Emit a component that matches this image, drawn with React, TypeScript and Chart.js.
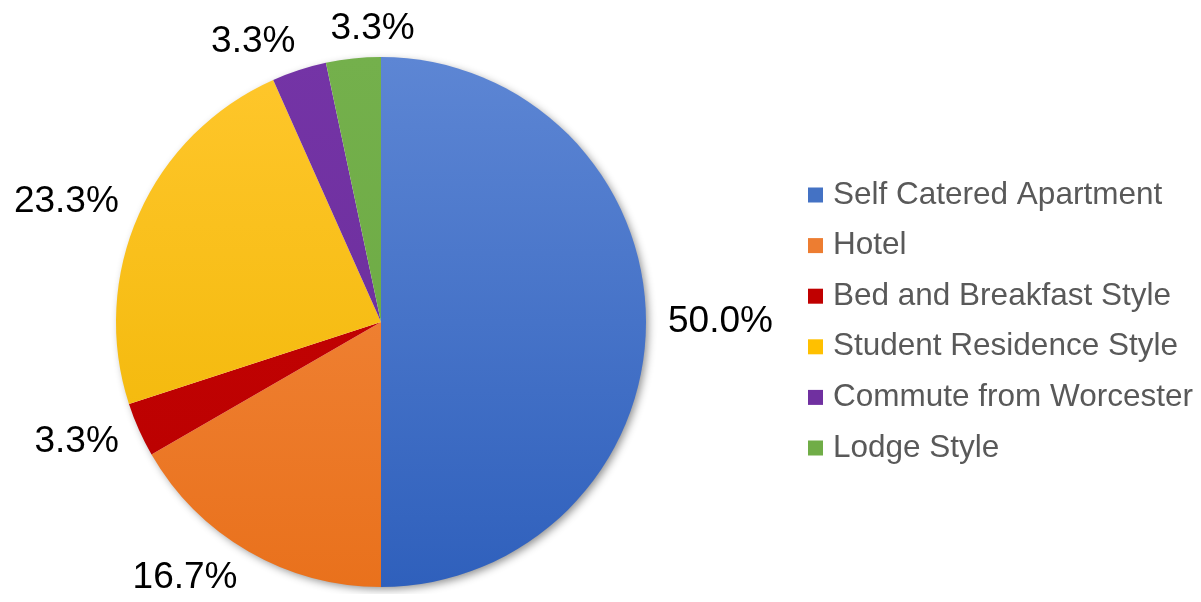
import React, { useEffect, useRef } from "react";
import { Chart, registerables } from "chart.js";

Chart.register(...registerables);

const categories = [
  "Self Catered Apartment",
  "Hotel",
  "Bed and Breakfast Style",
  "Student Residence Style",
  "Commute from Worcester",
  "Lodge Style",
];
const counts = [15, 5, 1, 7, 1, 1];
const colorTop = ["#5d86d4", "#f48d45", "#c80404", "#ffc72c", "#7434a6", "#74b04c"];
const colorBottom = ["#2f60bc", "#e9711c", "#b80000", "#efb400", "#6a2c98", "#6aa840"];
const baseColors = ["#4472C4", "#ED7D31", "#C00000", "#FFC000", "#7030A0", "#70AD47"];

const FONT = "'Liberation Sans', Arial, sans-serif";

const shadowPlugin = {
  id: "pieShadow",
  beforeDatasetsDraw(chart: any) {
    const arc = chart.getDatasetMeta(0).data[0];
    if (!arc) return;
    const { x, y, outerRadius } = arc.getProps(["x", "y", "outerRadius"], true);
    const ctx = chart.ctx;
    ctx.save();
    ctx.shadowColor = "rgba(0,0,0,0.45)";
    ctx.shadowBlur = 9;
    ctx.shadowOffsetX = 3;
    ctx.shadowOffsetY = 3;
    ctx.beginPath();
    ctx.arc(x, y, outerRadius - 1, 0, Math.PI * 2);
    ctx.fillStyle = "#ffffff";
    ctx.fill();
    ctx.restore();
  },
};

const labelPlugin = {
  id: "outsideLabels",
  afterDatasetsDraw(chart: any) {
    const ctx = chart.ctx;
    const ds = chart.data.datasets[0];
    const values = ds.data as number[];
    const total = values.reduce((a, b) => a + b, 0);
    const meta = chart.getDatasetMeta(0);
    ctx.save();
    ctx.font = `37px ${FONT}`;
    ctx.fillStyle = "#000000";
    ctx.textAlign = "center";
    ctx.textBaseline = "middle";
    const placed: { cx: number; cy: number; w: number }[] = [];
    meta.data.forEach((arc: any, i: number) => {
      const { x, y, startAngle, endAngle, outerRadius } = arc.getProps(
        ["x", "y", "startAngle", "endAngle", "outerRadius"],
        true
      );
      const mid = (startAngle + endAngle) / 2;
      const cos = Math.cos(mid);
      const sin = Math.sin(mid);
      const text = ((values[i] / total) * 100).toFixed(1) + "%";
      const w = ctx.measureText(text).width;
      const d = outerRadius + 22;
      const k = Math.max(-1, Math.min(1, cos * 3));
      let cx = x + d * cos + (w / 2) * k;
      const cy = y + d * sin + 8 * sin;
      const prev = placed[placed.length - 1];
      if (prev && Math.abs(cy - prev.cy) < 32) {
        const need = (w + prev.w) / 2 + 35;
        if (Math.abs(cx - prev.cx) < need) {
          const sign = cx >= prev.cx ? 1 : -1;
          cx = prev.cx + sign * need;
        }
      }
      placed.push({ cx, cy, w });
      ctx.fillText(text, cx, cy);
    });
    ctx.restore();
  },
};

const legendPlugin = {
  id: "sideLegend",
  afterDraw(chart: any) {
    const ctx = chart.ctx;
    const labels = chart.data.labels as string[];
    ctx.save();
    ctx.font = `31.5px ${FONT}`;
    ctx.textAlign = "left";
    ctx.textBaseline = "alphabetic";
    labels.forEach((lab, i) => {
      const cy = 187 + i * 50.6;
      ctx.fillStyle = baseColors[i];
      ctx.fillRect(800, cy - 7.5, 15, 15);
      ctx.fillStyle = "#595959";
      ctx.fillText(lab, 825, cy + 8.5);
    });
    ctx.restore();
  },
};

export default function App() {
  const ref = useRef<HTMLCanvasElement | null>(null);
  useEffect(() => {
    if (!ref.current) return;
    const chart = new Chart(ref.current, {
      type: "pie",
      data: {
        labels: categories,
        datasets: [
          {
            data: counts,
            borderWidth: 0,
            backgroundColor: (c: any) => {
              const area = c.chart.chartArea;
              const i = c.dataIndex;
              if (!area || i === undefined) return baseColors[i ?? 0];
              const g = c.chart.ctx.createLinearGradient(0, area.top, 0, area.bottom);
              g.addColorStop(0, colorTop[i]);
              g.addColorStop(1, colorBottom[i]);
              return g;
            },
          },
        ],
      },
      options: {
        responsive: false,
        animation: false,
        layout: { padding: { top: 49, bottom: 7, left: 108, right: 547 } },
        plugins: {
          legend: { display: false },
          tooltip: { enabled: false },
        },
      },
      plugins: [shadowPlugin, labelPlugin, legendPlugin],
    });
    return () => chart.destroy();
  }, []);
  return (
    <div style={{ width: 1185, height: 586, background: "#ffffff" }}>
      <canvas ref={ref} width={1185} height={586} style={{ display: "block" }} />
    </div>
  );
}
